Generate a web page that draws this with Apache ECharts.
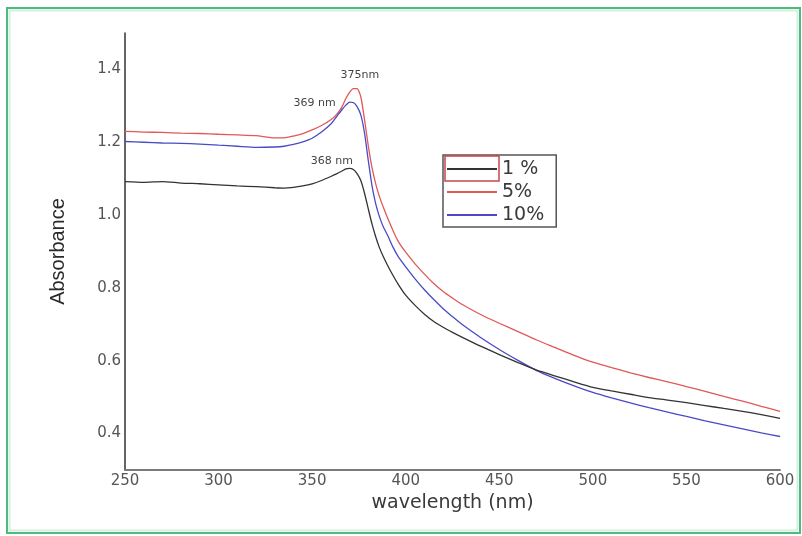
<!DOCTYPE html>
<html>
<head>
<meta charset="utf-8">
<script src="https://cdn.jsdelivr.net/npm/echarts@6/dist/echarts.min.js"></script>
<style>
html,body{margin:0;padding:0;background:#fff;}
#chart{width:802px;height:536px;}
</style>
</head>
<body>
<div id="chart"></div>
<script>
// wavelength (nm)
var wavelengths = [250,260,270,280,290,300,310,320,330,335,340,345,350,355,360,363,366,368,370,372,374,376,378,380,382,384,386,388,390,393,396,400,405,410,415,420,425,430,440,450,460,470,480,490,500,510,520,530,540,550,560,570,580,590,600];

// 1 % (black)
var abs1 = [1.092,1.090,1.092,1.088,1.086,1.083,1.080,1.078,1.075,1.074,1.076,1.080,1.086,1.095,1.106,1.113,1.121,1.127,1.128,1.125,1.114,1.095,1.060,1.017,0.975,0.940,0.910,0.886,0.865,0.836,0.810,0.780,0.752,0.728,0.708,0.692,0.678,0.665,0.640,0.617,0.595,0.574,0.558,0.542,0.527,0.517,0.508,0.499,0.492,0.485,0.477,0.469,0.461,0.452,0.442];

// 5 % (red)
var abs5 = [1.230,1.228,1.227,1.225,1.224,1.222,1.220,1.218,1.212,1.212,1.217,1.224,1.234,1.246,1.262,1.276,1.298,1.320,1.337,1.347,1.347,1.325,1.262,1.190,1.130,1.085,1.050,1.022,0.996,0.960,0.928,0.898,0.866,0.838,0.812,0.790,0.772,0.755,0.727,0.703,0.680,0.657,0.636,0.615,0.596,0.581,0.567,0.554,0.542,0.529,0.516,0.502,0.489,0.475,0.461];

// 10 % (blue)
var abs10 = [1.202,1.200,1.198,1.197,1.195,1.192,1.189,1.186,1.187,1.189,1.194,1.201,1.211,1.228,1.250,1.270,1.290,1.302,1.310,1.309,1.298,1.275,1.225,1.150,1.080,1.030,0.995,0.968,0.948,0.914,0.886,0.858,0.825,0.795,0.768,0.743,0.721,0.700,0.664,0.631,0.601,0.573,0.551,0.531,0.513,0.498,0.484,0.471,0.459,0.447,0.435,0.424,0.413,0.402,0.392];

var seriesNames = ['1 %', '5%', '10%'];
var yTickLabels = [0.4, 0.6, 0.8, 1.0, 1.2, 1.4];
var peakLabels = ['368 nm', '375nm', '369 nm'];
var peakCoords = [[368, 1.128], [375, 1.348], [369, 1.31]];

function pairs(arr){ return wavelengths.map(function(w,i){ return [w, arr[i]]; }); }
function peak(i, offset){
  return {
    symbol: 'rect', symbolSize: 1, silent: true,
    itemStyle: {color: 'rgba(0,0,0,0)'},
    label: {show: true, position: 'inside', color: '#444', fontFamily: 'DejaVu Sans', fontSize: 11},
    data: [{coord: peakCoords[i], value: peakLabels[i], label: {formatter: peakLabels[i], offset: offset}}]
  };
}

var chart = echarts.init(document.getElementById('chart'), null, {renderer: 'canvas'});
var option = {
  animation: false,
  backgroundColor: '#ffffff',
  grid: {left: 125, right: 22, top: 33, bottom: 66},
  legend: {
    orient: 'vertical', left: 443, top: 155,
    padding: [4, 12, 2, 4], itemGap: 3,
    itemWidth: 50, itemHeight: 2, icon: 'rect',
    borderColor: '#555', borderWidth: 1.5, backgroundColor: '#fff',
    textStyle: {fontFamily: 'DejaVu Sans', fontSize: 19, lineHeight: 20, color: '#3a3a3a'},
    data: seriesNames
  },
  xAxis: {
    type: 'value', min: 250, max: 600, interval: 50,
    name: 'wavelength (nm)', nameLocation: 'middle', nameGap: 24,
    nameTextStyle: {fontFamily: 'DejaVu Sans', fontSize: 19, color: '#3a3a3a'},
    axisLine: {lineStyle: {color: '#7a7a7a', width: 2}},
    axisTick: {show: false},
    splitLine: {show: false},
    axisLabel: {margin: 4, fontFamily: 'DejaVu Sans', fontSize: 15, color: '#555'}
  },
  yAxis: {
    type: 'value', min: 0.3, max: 1.5, interval: 0.1,
    name: 'Absorbance', nameLocation: 'middle', nameGap: 57, nameRotate: 90,
    nameTextStyle: {fontFamily: 'Liberation Sans', fontSize: 20, color: '#2a2a2a'},
    axisLine: {show: true, lineStyle: {color: '#333', width: 1.5}},
    axisTick: {show: false},
    splitLine: {show: false},
    axisLabel: {
      margin: 4, fontFamily: 'DejaVu Sans', fontSize: 15, color: '#555',
      formatter: function(v){
        for (var i = 0; i < yTickLabels.length; i++) {
          if (Math.abs(v - yTickLabels[i]) < 1e-6) return yTickLabels[i].toFixed(1);
        }
        return '';
      }
    }
  },
  series: [
    {name: seriesNames[0], type: 'line', data: pairs(abs1), showSymbol: false, symbol: 'none',
     smooth: 0.2,
     lineStyle: {color: '#333333', width: 1.3}, itemStyle: {color: '#333333'}, z: 3,
     markPoint: peak(0, [-14, -7])},
    {name: seriesNames[1], type: 'line', data: pairs(abs5), showSymbol: false, symbol: 'none',
     smooth: 0.2,
     lineStyle: {color: '#e05858', width: 1.3}, itemStyle: {color: '#e05858'}, z: 2,
     markPoint: peak(1, [1, -13])},
    {name: seriesNames[2], type: 'line', data: pairs(abs10), showSymbol: false, symbol: 'none',
     smooth: 0.2,
     lineStyle: {color: '#4a4ac8', width: 1.3}, itemStyle: {color: '#4a4ac8'}, z: 2,
     markPoint: peak(2, [-33, 1])}
  ],
  graphic: [
    {type: 'rect', z: 100, silent: true, shape: {x: 7, y: 8, width: 793, height: 525},
     style: {fill: 'none', stroke: '#4dbb80', lineWidth: 2}},
    {type: 'rect', z: 100, silent: true, shape: {x: 9.5, y: 10.5, width: 788, height: 520},
     style: {fill: 'none', stroke: '#d3f1df', lineWidth: 2}},
    {type: 'rect', z: 100, silent: true, shape: {x: 445, y: 156, width: 54, height: 25},
     style: {fill: 'none', stroke: '#c9464a', lineWidth: 1.5}}
  ]
};
chart.setOption(option);
</script>
</body>
</html>
